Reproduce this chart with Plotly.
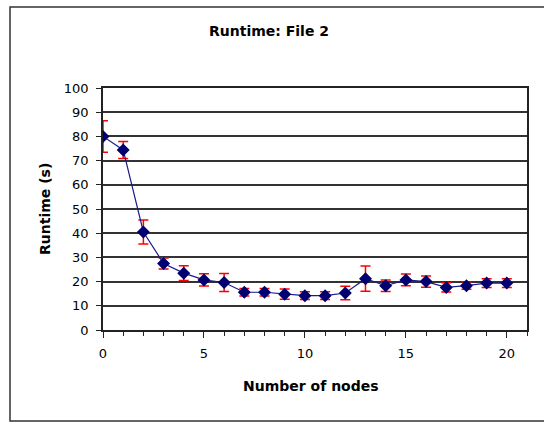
import plotly.graph_objects as go

nodes = list(range(21))
runtime = [80, 74.4, 40.5, 27.5, 23.5, 20.7, 19.6, 15.6, 15.6, 14.8, 14.2, 14.2, 15.3, 21.2, 18.3, 20.7, 20.0, 17.6, 18.3, 19.4, 19.4]
err = [6.5, 3.5, 5.0, 2.3, 3.0, 2.5, 3.7, 1.6, 1.5, 2.1, 1.6, 1.6, 2.8, 5.2, 2.4, 2.4, 2.3, 1.9, 1.5, 1.8, 1.8]

title_text = "Runtime: File 2"
x_title = "Number of nodes"
y_title = "Runtime (s)"

FONT = "DejaVu Sans, Verdana, sans-serif"

fig = go.Figure()
fig.add_trace(go.Scatter(
    x=nodes, y=runtime,
    mode="lines+markers",
    line=dict(color="#1a1a8c", width=1.2),
    marker=dict(symbol="diamond", size=10, color="#000070"),
    error_y=dict(type="data", array=err, visible=True, color="#ff0000", thickness=1.5, width=5),
    showlegend=False,
))

fig.update_layout(
    width=544, height=424,
    margin=dict(l=103, r=17, t=88, b=94),
    paper_bgcolor="white", plot_bgcolor="white",
    font=dict(family=FONT, size=13, color="#000"),
    xaxis=dict(
        range=[0, 21], tickmode="array", tickvals=[0, 5, 10, 15, 20],
        showgrid=False, zeroline=False,
        showline=True, linecolor="#222", linewidth=1.5, mirror=True,
        ticks="outside", ticklen=6, tickcolor="#222", tickwidth=1.2,
        minor=dict(dtick=1, ticks="outside", ticklen=4, tickcolor="#222", tickwidth=1.2),
        tickfont=dict(size=13), ticklabelstandoff=5,
    ),
    yaxis=dict(
        range=[0, 100], dtick=10,
        showgrid=True, gridcolor="#333", gridwidth=1.5, zeroline=False,
        showline=True, linecolor="#222", linewidth=1.5, mirror=True,
        ticks="outside", ticklen=5, tickcolor="#222", tickwidth=1.2,
        tickfont=dict(size=13), ticklabelstandoff=5,
    ),
    shapes=[dict(type="rect", xref="paper", yref="paper",
                 x0=(10 - 103) / 424, x1=1.1, y0=-(421 - 330) / 242, y1=1 + (88 - 7) / 242,
                 line=dict(color="#333", width=1.5), layer="below")],
    annotations=[
        dict(text="<b>" + title_text + "</b>", xref="paper", yref="paper",
             x=(269 - 103) / 424, y=1 + (88 - 31) / 242, showarrow=False,
             font=dict(size=14), xanchor="center", yanchor="middle"),
        dict(text="<b>" + x_title + "</b>", xref="paper", yref="paper",
             x=(311 - 103) / 424, y=-(386 - 330) / 242, showarrow=False,
             font=dict(size=14), xanchor="center", yanchor="middle"),
        dict(text="<b>" + y_title + "</b>", xref="paper", yref="paper",
             x=-(103 - 45) / 424, y=0.5, showarrow=False, textangle=-90,
             font=dict(size=14), xanchor="center", yanchor="middle"),
    ],
)

fig.write_html("out.html", config={"displayModeBar": False},
               post_script="document.body.style.margin='0';")
